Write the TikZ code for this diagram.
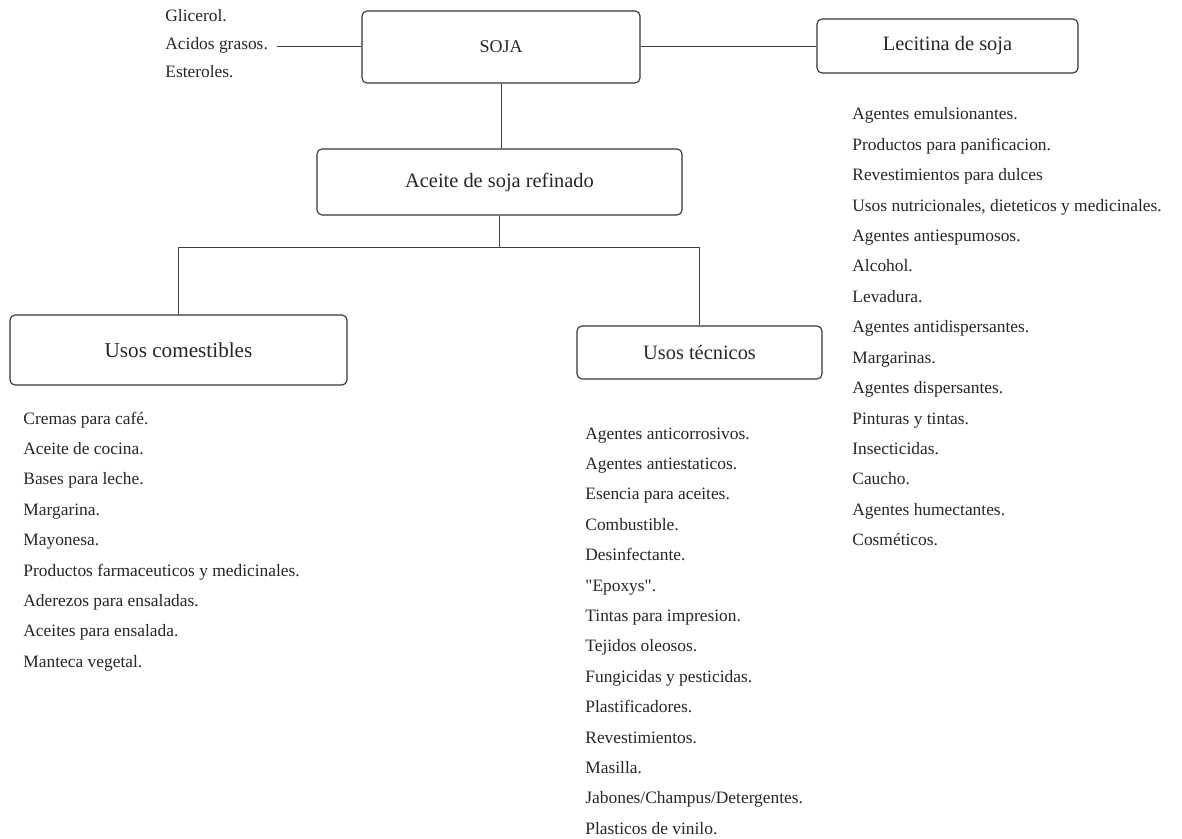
\documentclass[tikz,border=0pt]{standalone}
\usepackage{fontspec}
\setmainfont{Liberation Serif}

\tikzset{
    box/.style={draw=black!80, line width=0.55pt, rounded corners=2.5pt, align=center,
        font=\fontsize{10.2}{12}\selectfont, text=black!85},
    item/.style={anchor=west, inner sep=0pt, text height=7pt, text depth=2pt,
        font=\fontsize{8.7}{10}\selectfont, text=black!85},
    link/.style={draw=black!75, line width=0.5pt},
}

\begin{document}
\begin{tikzpicture}[x=0.5pt, y=-0.5pt]

        % Page frame (pixel units, y downwards)
        \useasboundingbox (0,0) rectangle (1182,839);

        % Main boxes
        \node[box, font=\fontsize{9}{10}\selectfont, minimum width=139pt, minimum height=36pt] (soja) at (501,47) {SOJA};
        \node[box, minimum width=130.5pt, minimum height=27pt] (lecitina) at (947.5,46) {Lecitina de soja};
        \node[box, minimum width=182.5pt, minimum height=33pt] (aceite) at (499.5,182) {Aceite de soja refinado};
        \node[box, font=\fontsize{10.6}{12}\selectfont, minimum width=168.5pt, minimum height=35pt] (comestibles) at (178.5,350) {Usos comestibles};
        \node[box, minimum width=122.5pt, minimum height=26.5pt] (tecnicos) at (699.5,352.5) {Usos técnicos};

        % Products beside SOJA
        \foreach \txt [count=\i] in {Glicerol., Acidos grasos., Esteroles.} {
            \node[item] (sub-\i) at (165, {17+28*(\i-1)}) {\txt};
        }

        % Define the list spacing
        \def\gap{30.4}

        % Edible uses
        \foreach \txt [count=\i] in {Cremas para café., Aceite de cocina., Bases para leche., Margarina.,
            Mayonesa., Productos farmaceuticos y medicinales., Aderezos para ensaladas.,
            Aceites para ensalada., Manteca vegetal.} {
            \node[item] (com-\i) at (23, {419+\gap*(\i-1)}) {\txt};
        }

        % Technical uses
        \foreach \txt [count=\i] in {Agentes anticorrosivos., Agentes antiestaticos., Esencia para aceites.,
            Combustible., Desinfectante., \textquotedbl Epoxys\textquotedbl., Tintas para impresion., Tejidos oleosos.,
            Fungicidas y pesticidas., Plastificadores., Revestimientos., Masilla.,
            Jabones/Champus/Detergentes., Plasticos de vinilo.} {
            \node[item] (tec-\i) at (585, {434+\gap*(\i-1)}) {\txt};
        }

        % Lecithin uses
        \foreach \txt [count=\i] in {Agentes emulsionantes., Productos para panificacion.,
            Revestimientos para dulces, {Usos nutricionales, dieteticos y medicinales.},
            Agentes antiespumosos., Alcohol., Levadura., Agentes antidispersantes., Margarinas.,
            Agentes dispersantes., Pinturas y tintas., Insecticidas., Caucho.,
            Agentes humectantes., Cosméticos.} {
            \node[item] (lec-\i) at (852, {115+\gap*(\i-1)}) {\txt};
        }

        % Connectors
        \coordinate (subend) at ([xshift=4.5pt]sub-2.east |- soja.west);
        \draw[link] (subend) -- (soja.west);
        \draw[link] (soja.east) -- (soja.east -| lecitina.west);
        \draw[link] (soja.south) -- (soja.south |- aceite.north);

        \coordinate (split) at ([yshift=-16pt]aceite.south);
        \draw[link] (aceite.south) -- (split);
        \draw[link] (comestibles.north) |- (split) -| (tecnicos.north);

\end{tikzpicture}
\end{document}
